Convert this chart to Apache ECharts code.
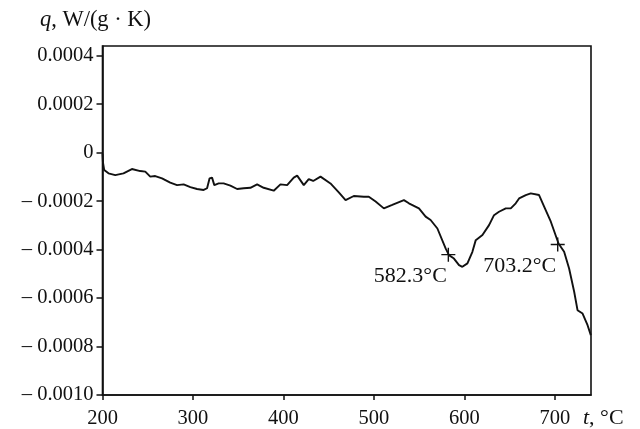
<!DOCTYPE html>
<html>
<head>
<meta charset="utf-8">
<script src="https://cdn.jsdelivr.net/npm/echarts@6/dist/echarts.min.js"></script>
<style>html,body{margin:0;padding:0;background:#fff}#c{width:640px;height:429px}</style>
</head>
<body>
<div id="c"></div>
<script>
// Temperature, °C
var temperature = [200, 200.5, 201.9, 206.6, 214.1, 223.2, 232.5, 241.7, 247.3, 252.8, 258.3, 265.8, 274.9, 282.4, 289.7, 297.1, 304.5, 311.8, 315.6, 318.4, 321.1, 323.6, 328.4, 333.9, 341.4, 348.8, 356.1, 363.5, 370.9, 378.2, 389.3, 396.7, 404.1, 411.4, 415.2, 422.5, 428.0, 432.9, 441.0, 452.0, 461.2, 468.7, 477.8, 488.9, 494.4, 501.9, 511.0, 520.3, 533.2, 538.7, 549.8, 557.2, 562.7, 570.2, 579.3, 583.0, 588.5, 594.1, 597.8, 603.4, 608.9, 612.6, 620.0, 627.3, 632.8, 638.3, 645.8, 651.3, 656.8, 660.5, 667.9, 673.4, 682.6, 688.2, 695.6, 704.1, 710.3, 715.8, 721.4, 725.1, 730.7, 736.2, 739.8];
// Heat flow q, W/(g·K)
var heatFlow = [-0.000005, -0.00004, -0.0000719, -0.0000855, -0.0000925, -0.0000855, -0.0000677, -0.000076, -0.0000785, -0.0000991, -0.0000966, -0.000106, -0.000124, -0.000134, -0.000131, -0.000142, -0.000150, -0.000154, -0.000147, -0.000106, -0.000103, -0.000134, -0.000127, -0.000127, -0.000136, -0.000150, -0.000147, -0.000145, -0.000131, -0.000145, -0.000157, -0.000131, -0.000134, -0.000103, -0.000095, -0.000134, -0.000109, -0.000117, -0.000099, -0.000127, -0.000164, -0.000196, -0.000179, -0.000182, -0.000182, -0.000202, -0.000230, -0.000216, -0.000196, -0.000209, -0.000230, -0.000264, -0.000278, -0.000313, -0.000395, -0.000423, -0.000437, -0.000464, -0.000471, -0.000457, -0.000409, -0.000361, -0.000340, -0.000299, -0.000258, -0.000244, -0.000230, -0.000230, -0.000209, -0.000189, -0.000175, -0.000168, -0.000175, -0.000223, -0.000285, -0.000375, -0.000409, -0.000478, -0.000574, -0.000650, -0.000664, -0.000712, -0.000753];
// Marked points
var markerTemps = [582.3, 703.2];
var markerValues = [-0.000421, -0.000379];
var markerLabels = ['582.3°C', '703.2°C'];
// Ticks
var xTicks = [200, 300, 400, 500, 600, 700];
var yTicks = [-0.0010, -0.0008, -0.0006, -0.0004, -0.0002, 0, 0.0002, 0.0004];

var FONT = 'Liberation Serif';
var lineData = temperature.map(function (t, i) { return [t, heatFlow[i]]; });
var markerData = markerTemps.map(function (t, i) { return { value: [t, markerValues[i]], name: markerLabels[i] }; });

function fmtY(v) {
  if (Math.abs(v) < 1e-12) return '0';
  if (v < 0) return '\u2013 ' + Math.abs(v).toFixed(4);
  return v.toFixed(4);
}

var chart = echarts.init(document.getElementById('c'), null, { renderer: 'canvas' });
chart.setOption({
  animation: false,
  backgroundColor: '#fff',
  grid: { left: 102.5, right: 49, top: 46, bottom: 33, show: true, borderColor: '#111', borderWidth: 1.6, containLabel: false },
  xAxis: {
    type: 'value', min: 200, max: 740,
    name: '{i|t}, °C',
    nameLocation: 'end', nameGap: -8,
    nameTextStyle: { fontFamily: FONT, fontSize: 22, color: '#111', align: 'left', verticalAlign: 'top', padding: [12, 0, 0, 0],
      rich: { i: { fontFamily: FONT, fontSize: 22, fontStyle: 'italic', color: '#111' } } },
    axisLine: { show: true, onZero: false, lineStyle: { color: '#111', width: 1.6 } },
    axisTick: { show: true, inside: false, length: 5, customValues: xTicks, lineStyle: { color: '#111', width: 1.5 } },
    axisLabel: { customValues: xTicks, margin: 13, fontFamily: FONT, fontSize: 20.5, color: '#111' },
    splitLine: { show: false }
  },
  yAxis: {
    type: 'value', min: -0.0010, max: 0.00044,
    name: '{i|q}, W/(g · K)',
    nameLocation: 'end', nameGap: 14,
    nameTextStyle: { fontFamily: FONT, fontSize: 22.5, color: '#111', align: 'center', padding: [0, 14, 0, 0],
      rich: { i: { fontFamily: FONT, fontSize: 22.5, fontStyle: 'italic', color: '#111' } } },
    axisLine: { show: true, onZero: false, lineStyle: { color: '#111', width: 1.6 } },
    axisTick: { show: true, inside: false, length: 6, customValues: yTicks, lineStyle: { color: '#111', width: 1.5 } },
    axisLabel: { customValues: yTicks, margin: 9, fontFamily: FONT, fontSize: 20.5, color: '#111', formatter: fmtY },
    splitLine: { show: false }
  },
  series: [
    {
      type: 'line', data: lineData, showSymbol: false, smooth: false,
      lineStyle: { color: '#111', width: 1.9 }, z: 3
    },
    {
      type: 'scatter', data: markerData,
      symbol: 'path://M0,5.4L12,5.4L12,6.6L0,6.6ZM5.4,0L6.6,0L6.6,12L5.4,12Z',
      symbolSize: 14,
      itemStyle: { color: '#111', opacity: 1 },
      label: {
        show: true, position: 'bottom', distance: 4, formatter: '{b}',
        fontFamily: FONT, fontSize: 22, color: '#111', opacity: 1, textBorderWidth: 0,
        offset: [-38, 0]
      },
      z: 4
    }
  ]
});
</script>
</body>
</html>
